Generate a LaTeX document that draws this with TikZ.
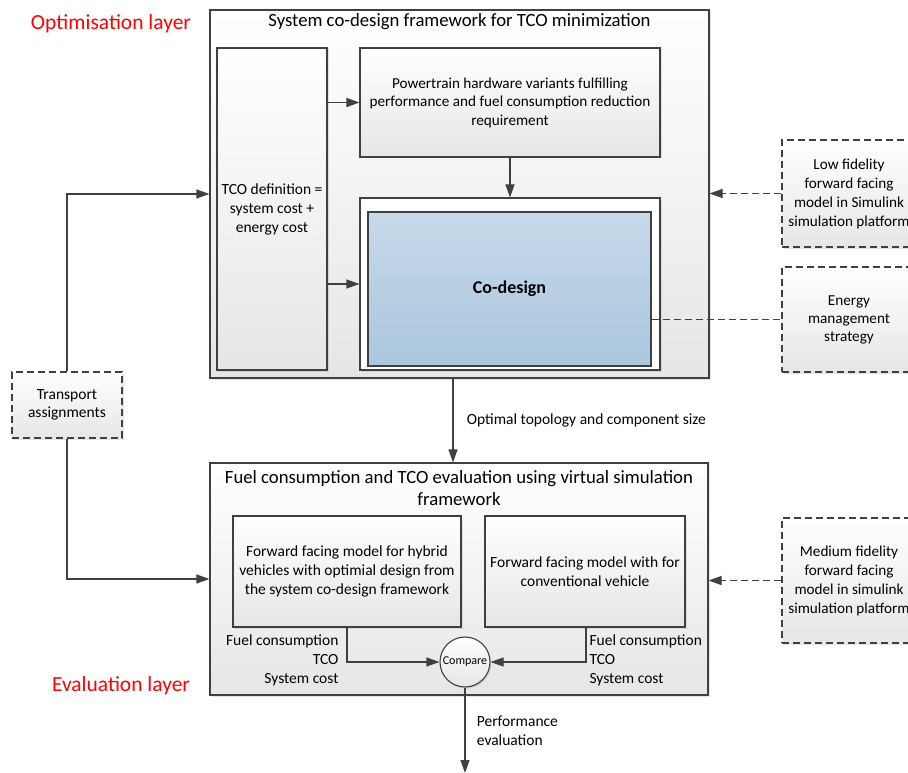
\documentclass[tikz,border=0pt]{standalone}
\usepackage{fontspec}
\setmainfont{Carlito}
\usetikzlibrary{arrows.meta,positioning,calc,shadows}
\definecolor{lncol}{RGB}{64,64,64}
\definecolor{layred}{RGB}{255,0,0}
\definecolor{cdtop}{RGB}{198,217,234}
\definecolor{cdbot}{RGB}{171,198,222}
\definecolor{boxbot}{RGB}{230,230,230}

\begin{document}
\begin{tikzpicture}[x=1pt,y=-1pt,font=\fontsize{15.5}{19}\selectfont,
    blk/.style={draw=lncol, line width=1.1pt, top color=white, bottom color=boxbot,
                align=center, inner sep=2pt,
                drop shadow={shadow xshift=1.5pt, shadow yshift=-1.5pt, opacity=0.2}},
    dblk/.style={blk, dash pattern=on 7pt off 4pt, font=\fontsize{15.2}{19}\selectfont},
    arr/.style={draw=lncol, line width=1.1pt, -{Triangle[length=13pt,width=9pt]}},
    darr/.style={arr, dash pattern=on 7pt off 4pt},
    ttl/.style={align=center, font=\fontsize{18.7}{21.5}\selectfont},
    lyr/.style={text=layred, font=\fontsize{21.5}{24}\selectfont}]
  \clip (0,0) rectangle (908,773);
  \fill[white] (0,0) rectangle (908,773);

  % optimisation layer
  \node[blk, minimum width=499pt, minimum height=368pt] (sys) at (459.5,194) {};
  \node[ttl] (systitle) at (459.5,22) {System co-design framework for TCO minimization};
  \node[blk, minimum width=110pt, minimum height=322pt] (tco) at (272,209)
       {TCO definition =\\system cost +\\energy cost};
  \node[blk, minimum width=300pt, minimum height=109pt, font=\fontsize{15.2}{18.5}\selectfont] (pwt) at (510,102.5)
       {Powertrain hardware variants fulfilling\\performance and fuel consumption reduction\\requirement};
  \node[draw=lncol, line width=1.1pt, fill=white, minimum width=300pt, minimum height=172pt,
        drop shadow={shadow xshift=1.5pt, shadow yshift=-1.5pt, opacity=0.2}] (cdo) at (510,284) {};
  \node[draw=lncol, line width=1.1pt, top color=cdtop, bottom color=cdbot, minimum width=283pt,
        minimum height=154pt, font=\fontsize{18}{21}\selectfont\bfseries] (cd) at (509.5,289) {Co-design};
  \node[lyr] (optlyr) at (111,24) {Optimisation layer};

  % side inputs
  \node[dblk, minimum width=134pt, minimum height=107pt] (lofid) at (849,193.5)
       {Low fidelity\\forward facing\\model in Simulink\\simulation platform};
  \node[dblk, minimum width=134pt, minimum height=105pt, font=\fontsize{15.2}{18}\selectfont] (ems) at (849,319.5)
       {Energy\\management\\strategy};
  \node[dblk, minimum width=110pt, minimum height=66pt, font=\fontsize{15.5}{18.5}\selectfont] (trans) at (67,405)
       {Transport\\assignments};
  \node[dblk, minimum width=134pt, minimum height=125pt] (medfid) at (849,580.5)
       {Medium fidelity\\forward facing\\model in simulink\\simulation platform};

  % evaluation layer
  \node[blk, minimum width=498pt, minimum height=232pt] (eval) at (459,579) {};
  \node[ttl] (evaltitle) at (459,488)
       {Fuel consumption and TCO evaluation using virtual simulation\\framework};
  \node[blk, minimum width=228pt, minimum height=111pt] (hyb) at (347,571.5)
       {Forward facing model for hybrid\\vehicles with optimial design from\\the system co-design framework};
  \node[blk, minimum width=200pt, minimum height=111pt] (conv) at (585,571.5)
       {Forward facing model with for\\conventional vehicle};
  \node[blk, circle, minimum size=50pt, inner sep=0pt, font=\fontsize{12}{14}\selectfont] (cmp) at (465,662) {Compare};
  \node[align=right, anchor=east] (hybout) at (342,660)
       {Fuel consumption\\TCO\\System cost};
  \node[align=left, anchor=west] (convout) at (586,660)
       {Fuel consumption\\TCO\\System cost};
  \node[lyr] (evallyr) at (121,686) {Evaluation layer};
  \coordinate (perf) at (465,773);

  % connectors
  \draw[arr] (tco.east |- pwt.west) -- (pwt.west);
  \draw[arr] (tco.east |- cdo.west) -- (cdo.west);
  \draw[arr] (pwt.south) -- (cdo.north);
  \draw[darr] (lofid.west) -- (sys.east |- lofid.west);
  \draw[draw=lncol, line width=1.1pt, dash pattern=on 7pt off 4pt] (cd.east |- ems.west) -- (ems.west);
  \draw[arr] (trans.north) |- (sys.west);
  \draw[arr] (trans.south) |- (eval.west);
  \draw[arr] ([xshift=-6.5pt]sys.south) -- ([xshift=-6pt]eval.north)
       node[midway, anchor=west, xshift=10pt] (optlbl) {Optimal topology and component size};
  \draw[darr] (medfid.west) -- (eval.east |- medfid.west);
  \draw[arr] (hyb.south) |- (cmp.west);
  \draw[arr] ([xshift=1pt]conv.south) |- (cmp.east);
  \draw[arr] (cmp.south) -- (perf)
       node[pos=0.5, anchor=west, align=left, xshift=8pt] (perflbl) {Performance\\evaluation};
\end{tikzpicture}
\end{document}
